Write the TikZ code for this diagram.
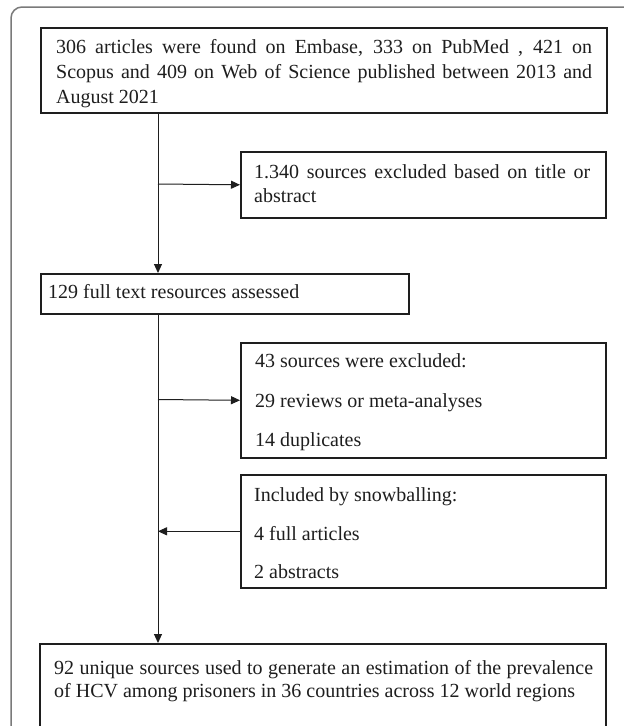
\documentclass[tikz,border=0pt]{standalone}
\usepackage{fontspec}
\setmainfont{Liberation Serif}
\usetikzlibrary{arrows.meta}
\definecolor{ink}{HTML}{1E1E1E}
\definecolor{frame}{HTML}{7A7A7A}
\tikzset{
  box/.style={draw=ink, line width=1.6pt, inner sep=0pt, anchor=north west},
  txt/.style={anchor=base west, inner sep=0pt, text=ink, font=\fontsize{20}{24}\selectfont},
  arr/.style={draw=ink, line width=1pt, -{Triangle[length=9pt,width=8pt]}},
  ln/.style={draw=ink, line width=1pt}
}
\begin{document}
\begin{tikzpicture}[x=1pt,y=-1pt]
\useasboundingbox (0,0) rectangle (624,726);
\fill[white] (0,0) rectangle (624,726);
% outer frame
\draw[frame, line width=1.5pt, rounded corners=11pt] (11,760) -- (11,7) -- (660,7);

% boxes
\node[box, minimum width=566pt, minimum height=85pt] (b1) at (40,27) {};
\node[box, minimum width=365pt, minimum height=66pt] (bx) at (240,151) {};
\node[box, minimum width=368pt, minimum height=40pt] (b129) at (40,273) {};
\node[box, minimum width=365pt, minimum height=115pt] (b43) at (240,342) {};
\node[box, minimum width=365pt, minimum height=113pt] (bsnow) at (240,474) {};
\node[box, minimum width=566pt, minimum height=120pt] (bfin) at (39,643) {};

% texts
\node[txt] (t1a) at (56,53) {\makebox[536pt][s]{306 articles were found on Embase, 333 on PubMed , 421 on}};
\node[txt] (t1b) at (56,78) {\makebox[536pt][s]{Scopus and 409 on Web of Science published between 2013 and}};
\node[txt] (t1c) at (56,103) {August 2021};

\node[txt] (txa) at (254,178) {\makebox[336pt][s]{1.340 sources excluded based on title or}};
\node[txt] (txb) at (254,202) {abstract};

\node[txt] (t129) at (48,298) {129 full text resources assessed};

\node[txt] (t43a) at (255,367) {43 sources were excluded:};
\node[txt] (t43b) at (255,407) {29 reviews or meta-analyses};
\node[txt] (t43c) at (255,446) {14 duplicates};

\node[txt] (tsa) at (254,501) {Included by snowballing:};
\node[txt] (tsb) at (254,540) {4 full articles};
\node[txt] (tsc) at (254,578) {2 abstracts};

\node[txt] (tfa) at (54,674) {\makebox[539pt][s]{92 unique sources used to generate an estimation of the prevalence}};
\node[txt] (tfb) at (54,697) {of HCV among prisoners in 36 countries across 12 world regions};

% spine coordinates
\coordinate (j1) at (158,184);
\coordinate (j2) at (158,399.5);

% connectors
\draw[arr] (b1.south -| j1) -- (b129.north -| j1);
\draw[arr] (j1) -- (bx.west);
\draw[arr] (b129.south -| j2) -- (bfin.north -| j2);
\draw[arr] (j2) -- (b43.west);
\draw[arr] (bsnow.west) -- (bsnow.west -| j2);
\end{tikzpicture}
\end{document}
